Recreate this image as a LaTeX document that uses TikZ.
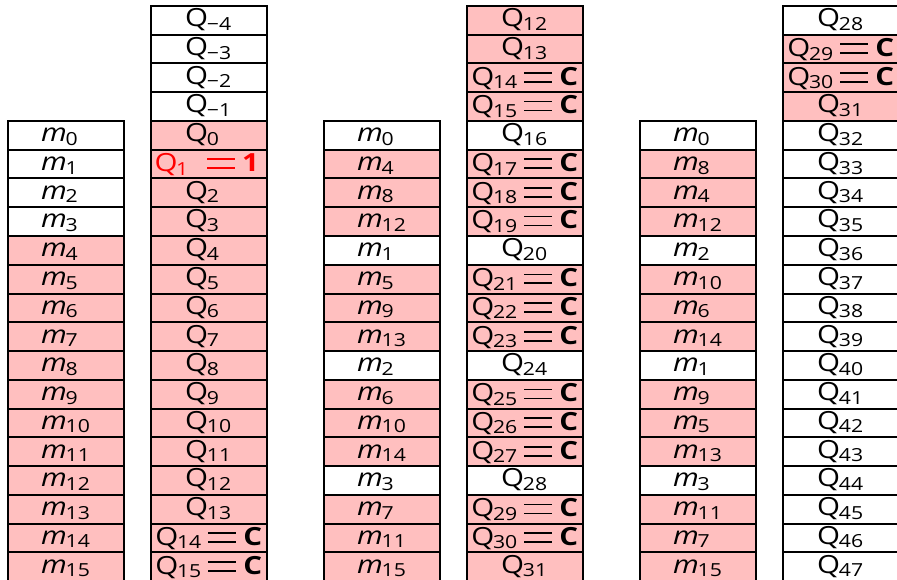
\documentclass[tikz,border=0pt]{standalone}
\usepackage{fontspec}
\setmainfont{Open Sans}[FakeStretch=1.18]
\definecolor{pinkc}{RGB}{255,191,191}
\definecolor{qred}{RGB}{255,0,0}
\newcommand\subx[1]{\kern-0.05em\raisebox{-0.28ex}{\fontsize{18}{18}\selectfont #1}}
\newcommand\mv[1]{\textit{m}\subx{#1}}
\newcommand\qv[1]{Q\subx{#1}}
\newcommand\eqsign{\raisebox{0.1em}{\rlap{\rule{1.1em}{0.06em}}\raisebox{0.36em}{\rule{1.1em}{0.06em}}}}
\newcommand\eqC{\hspace{0.28em}\eqsign\hspace{0.3em}\textbf{C}}
\tikzset{
  cell/.style={draw=black, line width=2pt, minimum width=115.5pt, minimum height=28.75pt, inner sep=0pt, outer sep=0pt, anchor=north west},
  lab/.style={inner sep=0pt, font=\fontsize{25}{28}\selectfont},
  plab/.style={lab, anchor=base west},
  clab/.style={lab, anchor=base},
}
\newcommand\rowh{28.75}
\begin{document}
\begin{tikzpicture}[x=1pt,y=-1pt]
\useasboundingbox (0,0) rectangle (897,580);
\clip (0,0) rectangle (897,580);
% ---------- column 1 ----------
\foreach [count=\r from 4] \n/\f in {0/white,1/white,2/white,3/white,4/pinkc,5/pinkc,6/pinkc,7/pinkc,8/pinkc,9/pinkc,10/pinkc,11/pinkc,12/pinkc,13/pinkc,14/pinkc,15/pinkc}{
  \node[cell,fill=\f] (ma\r) at (8,{6+\r*\rowh}) {};
  \node[plab] (mat\r) at ([xshift=33pt,yshift=8pt]ma\r.south west) {\mv{\n}};
}
\foreach [count=\r from 0] \n/\f/\t in {−4/white/0,−3/white/0,−2/white/0,−1/white/0,0/pinkc/0,1/pinkc/2,2/pinkc/0,3/pinkc/0,4/pinkc/0,5/pinkc/0,6/pinkc/0,7/pinkc/0,8/pinkc/0,9/pinkc/0,10/pinkc/0,11/pinkc/0,12/pinkc/0,13/pinkc/0,14/pinkc/1,15/pinkc/1}{
  \node[cell,fill=\f] (qa\r) at (151,{6+\r*\rowh}) {};
  \ifcase\t
    \node[plab] (qat\r) at ([xshift=34pt,yshift=8pt]qa\r.south west) {\qv{\n}};
  \or
    \node[clab] (qat\r) at ([yshift=7pt]qa\r.south) {\qv{\n}\eqC};
  \or
    \node[clab,text=qred] (qat\r) at ([xshift=-2pt,yshift=7pt]qa\r.south) {\qv{\n}\hspace{0.75em}\eqsign\hspace{0.3em}\textbf{1}};
  \fi
}
% ---------- column 2 ----------
\foreach [count=\r from 4] \n/\f in {0/white,4/pinkc,8/pinkc,12/pinkc,1/white,5/pinkc,9/pinkc,13/pinkc,2/white,6/pinkc,10/pinkc,14/pinkc,3/white,7/pinkc,11/pinkc,15/pinkc}{
  \node[cell,fill=\f] (mb\r) at (324,{6+\r*\rowh}) {};
  \node[plab] (mbt\r) at ([xshift=33pt,yshift=8pt]mb\r.south west) {\mv{\n}};
}
\foreach [count=\r from 0] \n/\f/\t in {12/pinkc/0,13/pinkc/0,14/pinkc/1,15/pinkc/1,16/white/0,17/pinkc/1,18/pinkc/1,19/pinkc/1,20/white/0,21/pinkc/1,22/pinkc/1,23/pinkc/1,24/white/0,25/pinkc/1,26/pinkc/1,27/pinkc/1,28/white/0,29/pinkc/1,30/pinkc/1,31/pinkc/0}{
  \node[cell,fill=\f] (qb\r) at (467,{6+\r*\rowh}) {};
  \ifcase\t
    \node[plab] (qbt\r) at ([xshift=34pt,yshift=8pt]qb\r.south west) {\qv{\n}};
  \or
    \node[clab] (qbt\r) at ([yshift=7pt]qb\r.south) {\qv{\n}\eqC};
  \fi
}
% ---------- column 3 ----------
\foreach [count=\r from 4] \n/\f in {0/white,8/pinkc,4/pinkc,12/pinkc,2/white,10/pinkc,6/pinkc,14/pinkc,1/white,9/pinkc,5/pinkc,13/pinkc,3/white,11/pinkc,7/pinkc,15/pinkc}{
  \node[cell,fill=\f] (mc\r) at (640,{6+\r*\rowh}) {};
  \node[plab] (mct\r) at ([xshift=33pt,yshift=8pt]mc\r.south west) {\mv{\n}};
}
\foreach [count=\r from 0] \n/\f/\t in {28/white/0,29/pinkc/1,30/pinkc/1,31/pinkc/0,32/white/0,33/white/0,34/white/0,35/white/0,36/white/0,37/white/0,38/white/0,39/white/0,40/white/0,41/white/0,42/white/0,43/white/0,44/white/0,45/white/0,46/white/0,47/white/0}{
  \node[cell,fill=\f] (qc\r) at (783,{6+\r*\rowh}) {};
  \ifcase\t
    \node[plab] (qct\r) at ([xshift=34pt,yshift=8pt]qc\r.south west) {\qv{\n}};
  \or
    \node[clab] (qct\r) at ([yshift=7pt]qc\r.south) {\qv{\n}\eqC};
  \fi
}
\end{tikzpicture}
\end{document}
